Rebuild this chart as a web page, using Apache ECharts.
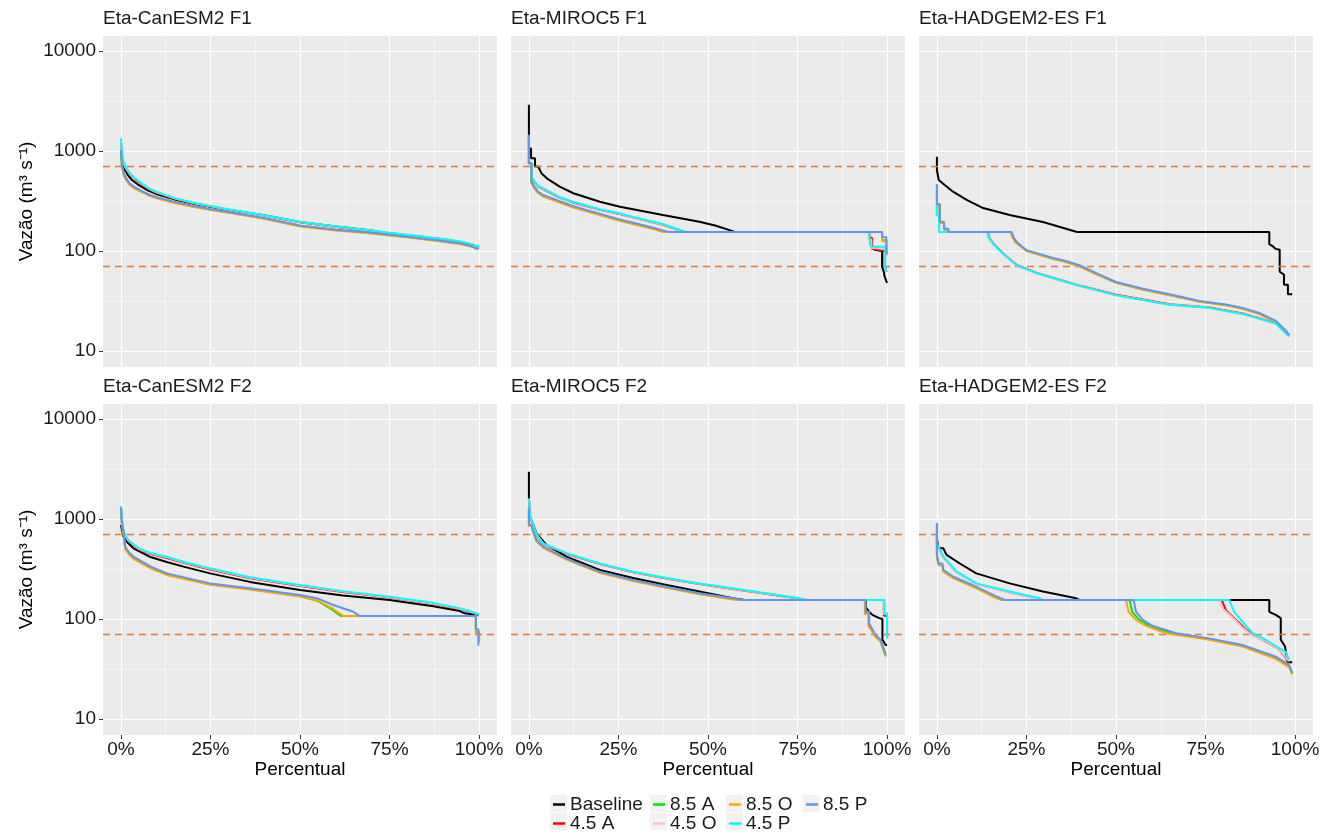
<!DOCTYPE html>
<html><head><meta charset="utf-8">
<script src="https://cdn.jsdelivr.net/npm/echarts@6/dist/echarts.min.js"></script>
<style>html,body{margin:0;padding:0;background:#fff}#c{width:1323px;height:834px}</style>
</head><body><div id="c"></div>
<script>
// ---------------- DATA ----------------
const panelTitles = ['Eta-CanESM2 F1','Eta-MIROC5 F1','Eta-HADGEM2-ES F1','Eta-CanESM2 F2','Eta-MIROC5 F2','Eta-HADGEM2-ES F2'];
const scenarios = ['Baseline','4.5 A','8.5 A','4.5 O','8.5 O','4.5 P','8.5 P'];
const xTicks = [0,25,50,75,100];
const xMinorTicks = [12.5,37.5,62.5,87.5];
const yTicks = [10,100,1000,10000];
const yMinorTicks = [31.62,316.2,3162];
const thresholds = [700,70];

// Eta-CanESM2 F1  [percentual, vazao]
const can1_base = [[0,950],[0.5,760],[1,660],[2,570],[3,515],[5,455],[7.5,405],[10,370],[15,328],[20,298],[25,277],[30,258],[40,228],[50,195],[60,176],[70,160],[75,150],[80,143],[90,130],[95,122],[98,116],[99.5,110]];
const can1_45A = [[0,1250],[0.3,900],[0.8,730],[1.5,650],[2.5,580],[4,515],[6,460],[8,412],[10,382],[15,333],[20,301],[25,279],[30,259],[40,226],[50,194],[60,174],[70,158],[75,151],[80,144],[90,131],[95,123],[98,116],[100,109]];
const can1_85A = [[0,1000],[0.3,700],[0.8,585],[1.5,520],[2.5,462],[4,424],[6,390],[8,361],[10,341],[15,306],[20,280],[25,260],[30,244],[40,212],[50,178],[60,162],[70,151],[75,144],[80,138],[90,125],[95,118],[98,111],[100,106]];
const can1_45O = [[0,1300],[0.3,930],[0.8,745],[1.5,665],[2.5,590],[4,522],[6,465],[8,416],[10,386],[15,336],[20,303],[25,280],[30,260],[40,227],[50,195],[60,175],[70,159],[75,151],[80,144],[90,131],[95,123],[98,116],[100,109]];
const can1_85O = [[0,980],[0.3,690],[0.8,575],[1.5,512],[2.5,455],[4,418],[6,385],[8,356],[10,336],[15,302],[20,277],[25,257],[30,241],[40,210],[50,176],[60,160],[70,150],[75,143],[80,137],[90,124],[95,117],[98,110],[100,105]];
const can1_45P = [[0,1340],[0.3,960],[0.8,760],[1.5,680],[2.5,600],[4,530],[6,470],[8,420],[10,390],[15,338],[20,305],[25,282],[30,262],[40,228],[50,196],[60,176],[70,160],[75,152],[80,145],[90,132],[95,124],[98,117],[100,110]];
const can1_85P = [[0,1020],[0.3,720],[0.8,600],[1.5,530],[2.5,470],[4,430],[6,395],[8,365],[10,345],[15,310],[20,283],[25,262],[30,246],[40,214],[50,180],[60,163],[70,152],[75,145],[80,139],[90,126],[95,119],[98,112],[99,106],[100,106]];

// Eta-MIROC5 F1
const mir1_base = [[0,2900],[0,1060],[0.6,1060],[0.6,845],[1.7,845],[1.7,700],[2.6,700],[3.5,600],[5,533],[8.6,440],[12.4,378],[19.8,311],[25.4,277],[37.4,229],[47.6,196],[52,180],[56.9,158],[57.5,155],[95,155],[95,145],[95.5,145],[95.5,112],[96.5,110],[96.5,103],[98.6,100],[98.6,70],[99.2,60],[99.2,57],[99.8,50],[100,48]];
const mir1_45A = [[0,1380],[0,750],[0.7,750],[0.7,550],[1.5,492],[2.5,443],[4.9,400],[8.6,340],[12.3,306],[19.8,258],[25.3,234],[30,212],[37.4,183],[41,166],[43,155],[95,155],[95,135],[95.8,135],[95.8,105],[99.3,100],[99.3,70],[100,68]];
const mir1_85A = [[0,1400],[0,750],[0.7,750],[0.7,490],[1.5,432],[2.5,386],[4,356],[8.6,310],[12.3,277],[18,241],[25.3,203],[30,185],[35,167],[38,155],[98.6,155],[98.6,128],[99.8,128],[99.8,96],[100,92]];
const mir1_45O = [[0,1390],[0,755],[0.7,755],[0.7,555],[1.5,496],[2.5,446],[4.9,403],[8.6,342],[12.3,308],[19.8,260],[25.3,236],[30,213],[37.4,184],[41,167],[43.3,155],[94.8,155],[94.8,130],[95.6,130],[95.6,108],[99.5,105],[99.5,66],[100,64]];
const mir1_85O = [[0,1350],[0,740],[0.7,740],[0.7,480],[1.5,425],[2.5,380],[4,350],[8.6,305],[12.3,272],[18,238],[25.3,200],[30,182],[35,165],[37.5,155],[98.6,155],[98.6,125],[99.8,125],[99.8,95],[100,90]];
const mir1_45P = [[0,1400],[0,760],[0.7,760],[0.7,560],[1.5,500],[2.5,450],[4.9,407],[8.6,345],[12.3,311],[19.8,262],[25.3,238],[30,215],[37.4,186],[41,168],[43.8,155],[95,155],[95,140],[95.5,140],[95.5,110],[99.5,110],[99.5,65],[100,62]];
const mir1_85P = [[0,1450],[0,760],[0.7,760],[0.7,500],[1.5,440],[2.5,392],[4,363],[8.6,315],[12.3,282],[18,245],[25.3,207],[30,188],[35,170],[38.5,157],[39.5,155],[98.6,155],[98.6,138],[99.8,138],[99.8,100],[100,95]];

// Eta-HADGEM2-ES F1
const had1_base = [[0,877],[0,646],[0.5,646],[0.5,513],[1,513],[2.2,457],[4.5,392],[8.3,324],[12.9,269],[20.3,229],[29.6,195],[38.9,156],[39.5,155],[92.8,155],[92.8,117],[93.7,112],[94.6,105],[95.7,103],[95.7,62],[96.9,58],[96.9,46],[98,46],[98,37],[99.2,37]];
const had1_45A = [[0,285],[0,228],[0.6,228],[0.6,155],[14.2,155],[14.7,134],[15.9,117],[18.7,93],[22.4,72],[28,60],[38.9,46],[50,36.5],[64.9,29.3],[76,27.2],[85.3,23.7],[94.6,19],[98.3,14.2]];
const had1_85A = [[0,455],[0,290],[0.8,290],[0.8,194],[2,194],[2,165],[3.2,165],[3.2,155],[20.7,155],[21.4,134],[22.1,123],[25,101],[32.4,84],[35.2,80],[39.8,71],[44.5,59],[50,48.5],[57.5,41.5],[64.9,36.5],[73.3,31.3],[80.7,28.9],[85.3,26.7],[90,23.7],[94.6,19.8],[97.4,15.8],[98.3,14.2]];
const had1_45O = [[0,280],[0,226],[0.6,226],[0.6,155],[14.1,155],[14.6,134],[15.8,117],[18.6,93],[22.3,71.5],[27.9,59.5],[38.9,45.5],[50,36.2],[64.9,29.1],[76,27],[85.3,23.4],[94.6,18.7],[98.3,14]];
const had1_85O = [[0,440],[0,280],[0.8,280],[0.8,190],[2,190],[2,163],[3.2,163],[3.2,155],[20.5,155],[21.3,132],[22,121],[25,100],[32.4,83],[35.2,79],[39.8,70],[44.5,58.5],[50,48],[57.5,41],[64.9,36],[73.3,31],[80.7,28.6],[85.3,26.4],[90,23.4],[94.6,19.5],[97.4,15.6],[98.3,14]];
const had1_45P = [[0,290],[0,230],[0.6,230],[0.6,155],[14,155],[14.5,135],[15.7,118],[18.5,94],[22.2,72],[27.8,60],[38.9,46],[50,36],[64.9,29],[76,27],[85.3,23.5],[94.6,18.8],[98.3,14]];
const had1_85P = [[0,468],[0,295],[0.8,295],[0.8,196],[2,196],[2,167],[3.2,167],[3.2,155],[20.8,155],[21.5,135],[22.2,124],[25,102],[32.4,85],[35.2,81],[39.8,72],[44.5,60],[50,49],[57.5,42],[64.9,37],[73.3,31.6],[80.7,29.2],[85.3,27],[90,24],[94.6,20],[97.4,16],[98.3,14.5]];

// Eta-CanESM2 F2
const can2_base = [[0,870],[0.7,669],[1.5,600],[3.5,509],[8,420],[12.8,371],[18,330],[24.9,286],[36,235],[50,195],[62,172],[75,155],[87.2,134],[94.6,120],[96,114],[100,109]];
const can2_45A = [[0,1300],[0.3,950],[0.7,740],[1.2,680],[2,605],[3.5,545],[5,496],[8,448],[12.8,408],[18,360],[24.9,313],[36,256],[50,214],[62,186],[75,164],[87.2,142],[94.6,126],[98,116],[100,110]];
const can2_85A = [[0,1270],[0.3,890],[0.7,720],[1.2,510],[2.1,455],[3.5,405],[8.2,326],[12.8,279],[24.9,222],[36,199],[50,170],[55,151],[59,124],[61.5,107],[99.1,107],[99.1,74],[100,74],[100,60]];
const can2_45O = [[0,1320],[0.3,960],[0.7,750],[1.2,690],[2,612],[3.5,552],[5,502],[8,454],[12.8,414],[18,365],[24.9,317],[36,259],[50,216],[62,188],[75,165],[87.2,143],[94.6,127],[98,117],[100,110]];
const can2_85O = [[0,1250],[0.3,880],[0.7,700],[1.2,500],[2.1,450],[3.5,400],[8.2,322],[12.8,276],[24.9,220],[36,197],[50,168],[55,152],[59,128],[62.1,107],[99.1,107],[99.1,72],[100,72],[100,58]];
const can2_45P = [[0,1350],[0.3,980],[0.7,760],[1.2,700],[2,620],[3.5,560],[5,509],[8,460],[12.8,420],[18,370],[24.9,321],[36,262],[50,219],[62,190],[75,167],[87.2,145],[94.6,128],[98,118],[100,111]];
const can2_85P = [[0,1300],[0.3,900],[0.7,776],[1.2,530],[2.1,471],[3.5,420],[8.2,336],[12.8,286],[24.9,227],[36,203],[50,174],[55,160],[59.3,138],[62,128],[64.9,118],[66.7,107],[99.1,107],[99.1,79],[99.8,79],[99.8,54]];

// Eta-MIROC5 F2
const mir2_base = [[0,2970],[0,1610],[0.2,1096],[0.7,977],[1.2,977],[2.1,719],[4.9,550],[10.5,420],[19.8,309],[29.1,257],[38.4,219],[47.6,188],[56.9,161],[60.2,155],[94.1,155],[94.1,130],[95,118],[95.9,110],[97.8,102],[98.7,100],[98.7,62],[99.6,55],[100,55]];
const mir2_45A = [[0,1560],[0.3,1080],[0.7,960],[2.1,690],[4,562],[10.5,450],[19.8,354],[29.1,293],[38.4,254],[47.6,224],[56.9,200],[66.2,179],[75.5,159],[77.2,155],[99.1,155],[99.1,108],[100,108],[100,66]];
const mir2_85A = [[0,1260],[0,860],[0.7,860],[1.2,750],[2.1,608],[4,522],[10.5,397],[19.8,293],[29.1,242],[38.4,207],[47.6,179],[56.5,159],[59,155],[93.9,155],[93.9,115],[94.9,115],[94.9,88],[96.8,67],[98.2,60],[99.6,43]];
const mir2_45O = [[0,1580],[0.3,1090],[0.7,965],[2.1,695],[4,566],[10.5,453],[19.8,356],[29.1,295],[38.4,255],[47.6,225],[56.9,201],[66.2,180],[75.5,160],[77.5,155],[99.1,155],[99.1,112],[100,112],[100,65]];
const mir2_85O = [[0,1250],[0,850],[0.7,850],[1.2,740],[2.1,600],[4,515],[10.5,392],[19.8,290],[29.1,240],[38.4,205],[47.6,177],[56,158],[58.5,155],[93.8,155],[93.8,112],[94.8,112],[94.8,85],[96.8,66],[98.2,59],[99.6,42]];
const mir2_45P = [[0,1610],[0.3,1100],[0.7,977],[2.1,700],[4,570],[10.5,456],[19.8,359],[29.1,297],[38.4,257],[47.6,227],[56.9,203],[66.2,181],[75.5,161],[77.8,155],[99.2,155],[99.2,114],[100,114],[100,64]];
const mir2_85P = [[0,1280],[0,871],[0.7,871],[1.2,760],[2.1,617],[4,530],[10.5,402],[19.8,297],[29.1,245],[38.4,210],[47.6,181],[56.9,161],[59.5,155],[94,155],[94,118],[95,118],[95,90],[96.8,69],[98.2,62],[99.6,44]];

// Eta-HADGEM2-ES F2
const had2_base = [[0,641],[0.4,641],[0.4,509],[1.8,509],[2.7,437],[6.4,359],[11,286],[20.3,227],[29.6,188],[38.9,161],[39.8,155],[92.8,155],[92.8,118],[94.6,110],[96,102],[96,62],[97.2,53],[97.4,53],[97.9,37],[99.2,37]];
const had2_45A = [[0,690],[0,560],[0.4,560],[1.8,414],[5.5,292],[11,224],[20.3,185],[28.3,158],[29,155],[79.5,155],[80.7,122],[83.5,98],[86,80],[88.8,67],[92,59],[95.5,50],[98.3,37]];
const had2_85A = [[0,900],[0,428],[0.5,428],[0.5,352],[1.5,352],[1.8,303],[4.5,261],[11,206],[16,168],[18.4,155],[53.8,155],[54.5,118],[56.5,98],[59.4,85],[65.5,72],[76,63],[85.3,54],[94.6,41],[98.3,34],[99.2,28.5]];
const had2_45O = [[0,680],[0,555],[0.4,555],[1.8,410],[5.5,290],[11,222],[20.3,184],[28,158],[28.8,155],[78.8,155],[80,125],[83,100],[85.3,82],[88.1,68],[91.8,60],[95.5,50],[98.3,38]];
const had2_85O = [[0,880],[0,420],[0.5,420],[0.5,345],[1.5,345],[1.8,298],[4.5,256],[11,203],[16,165],[18,155],[52.8,155],[53.5,118],[55.6,98],[58.5,85],[64,72],[76,62],[85.3,53],[94.6,40],[98.3,33],[99.2,28]];
const had2_45P = [[0,700],[0,570],[0.4,570],[1.8,420],[5.5,297],[11,227],[20.3,188],[28.7,161],[29.5,155],[81.6,155],[83,118],[85.3,94],[88.1,72],[91.8,62],[95.5,51],[97.4,47],[98.3,39]];
const had2_85P = [[0,919],[0,437],[0.5,437],[0.5,359],[1.5,359],[1.8,309],[4.5,266],[11,210],[16,172],[18.9,155],[54.9,155],[55.6,118],[57.5,98],[60.3,85],[66.8,72],[76,64],[85.3,55],[94.6,42],[98.3,35],[99.2,29]];

const panelSeries = [
  [can1_base, can1_45A, can1_85A, can1_45O, can1_85O, can1_45P, can1_85P],
  [mir1_base, mir1_45A, mir1_85A, mir1_45O, mir1_85O, mir1_45P, mir1_85P],
  [had1_base, had1_45A, had1_85A, had1_45O, had1_85O, had1_45P, had1_85P],
  [can2_base, can2_45A, can2_85A, can2_45O, can2_85O, can2_45P, can2_85P],
  [mir2_base, mir2_45A, mir2_85A, mir2_45O, mir2_85O, mir2_45P, mir2_85P],
  [had2_base, had2_45A, had2_85A, had2_45O, had2_85O, had2_45P, had2_85P]
];

// ---------------- STYLE / LAYOUT ----------------
const colors = ['#000000','#FF0000','#00E600','#FFC0CB','#FFA500','#00FFFF','#6495ED'];
const FONT = '"Liberation Sans", Arial, sans-serif';
const TXT = '#1a1a1a';
const gridLefts = [103, 511, 919];
const gridTops = [36, 404];
const gridW = 394, gridH = 331;
const yMin = 0.84, yMax = 4.15;   // log10 extent of panels
const lg = v => Math.log10(v);

const chart = echarts.init(document.getElementById('c'));
const grids = [], xAxes = [], yAxes = [], series = [], titles = [];

for (let p = 0; p < 6; p++) {
  const row = Math.floor(p / 3), col = p % 3;
  const bottom = row === 1, first = col === 0;
  grids.push({left: gridLefts[col], top: gridTops[row], width: gridW, height: gridH,
    show: true, backgroundColor: '#EBEBEB', borderWidth: 0});
  titles.push({text: panelTitles[p], left: gridLefts[col], top: gridTops[row] - 27, padding: 0,
    textStyle: {fontFamily: FONT, fontSize: 19, fontWeight: 'normal', color: TXT}});
  // major x
  xAxes.push({type: 'value', gridIndex: p, min: -5, max: 105, position: 'bottom',
    axisLine: {show: false, onZero: false},
    axisTick: {show: bottom, length: 4, lineStyle: {color: '#333'}, customValues: xTicks},
    axisLabel: {show: bottom, customValues: xTicks, formatter: v => v + '%', margin: 5,
      fontFamily: FONT, fontSize: 19, color: TXT},
    splitLine: {show: true, lineStyle: {color: '#FFFFFF', width: 1.1}},
    name: bottom ? 'Percentual' : '', nameLocation: 'middle', nameGap: 24,
    nameTextStyle: {fontFamily: FONT, fontSize: 19, color: '#000'}});
  // minor x
  xAxes.push({type: 'value', gridIndex: p, min: -5, max: 105, position: 'bottom',
    axisLine: {show: false, onZero: false}, axisTick: {show: false, customValues: xMinorTicks},
    axisLabel: {show: false}, splitLine: {show: true, lineStyle: {color: '#FFFFFF', width: 0.5}}});
  // major y
  yAxes.push({type: 'value', gridIndex: p, min: yMin, max: yMax, position: 'left',
    axisLine: {show: false, onZero: false},
    axisTick: {show: first, length: 4, lineStyle: {color: '#333'}, customValues: yTicks.map(lg)},
    axisLabel: {show: first, customValues: yTicks.map(lg), margin: 7,
      formatter: v => String(Math.round(Math.pow(10, v))), fontFamily: FONT, fontSize: 19, color: TXT},
    splitLine: {show: true, lineStyle: {color: '#FFFFFF', width: 1.1}},
    name: first ? 'Vazão (m³ s⁻¹)' : '', nameLocation: 'middle', nameRotate: 90, nameGap: 67,
    nameTextStyle: {fontFamily: FONT, fontSize: 19, color: '#000'}});
  // minor y
  yAxes.push({type: 'value', gridIndex: p, min: yMin, max: yMax, position: 'left',
    axisLine: {show: false, onZero: false}, axisTick: {show: false, customValues: yMinorTicks.map(lg)},
    axisLabel: {show: false}, splitLine: {show: true, lineStyle: {color: '#FFFFFF', width: 0.5}}});

  panelSeries[p].forEach((arr, s) => {
    const ser = {type: 'line', name: scenarios[s], xAxisIndex: 2 * p, yAxisIndex: 2 * p,
      data: arr.map(d => [d[0], lg(d[1])]), showSymbol: false, symbol: 'none', silent: true,
      lineStyle: {color: colors[s], width: 2}, itemStyle: {color: colors[s]}, z: 2 + s, clip: true};
    if (s === scenarios.length - 1) {
      ser.markLine = {silent: true, symbol: 'none', label: {show: false},
        lineStyle: {type: [7, 5], color: '#E2793A', width: 1.4},
        data: thresholds.map(t => ({yAxis: lg(t)}))};
    }
    series.push(ser);
  });
}

// legend: column-major like ggplot (2 rows)
const legendCols = [[0,1],[2,3],[4,5],[6]];
const legendLefts = [553, 653, 729, 806];
const legendTop = 795;
const legends = legendCols.map((c, i) => ({
  orient: 'vertical', left: legendLefts[i], top: legendTop, padding: 0, itemGap: 0,
  itemWidth: 12, itemHeight: 2.5, icon: 'rect', selectedMode: false,
  textStyle: {fontFamily: FONT, fontSize: 19, lineHeight: 18, color: TXT},
  data: c.map(k => scenarios[k])
}));
const keyBoxes = [];
legendCols.forEach((c, i) => c.forEach((k, r) => keyBoxes.push({type: 'rect', z: -1,
  shape: {x: legendLefts[i] - 3, y: legendTop + r * 18, width: 17, height: 17},
  style: {fill: '#F2F2F2'}})));

chart.setOption({
  animation: false, backgroundColor: '#FFFFFF',
  title: titles, grid: grids, xAxis: xAxes, yAxis: yAxes, series: series,
  legend: legends, graphic: keyBoxes
});
</script></body></html>
